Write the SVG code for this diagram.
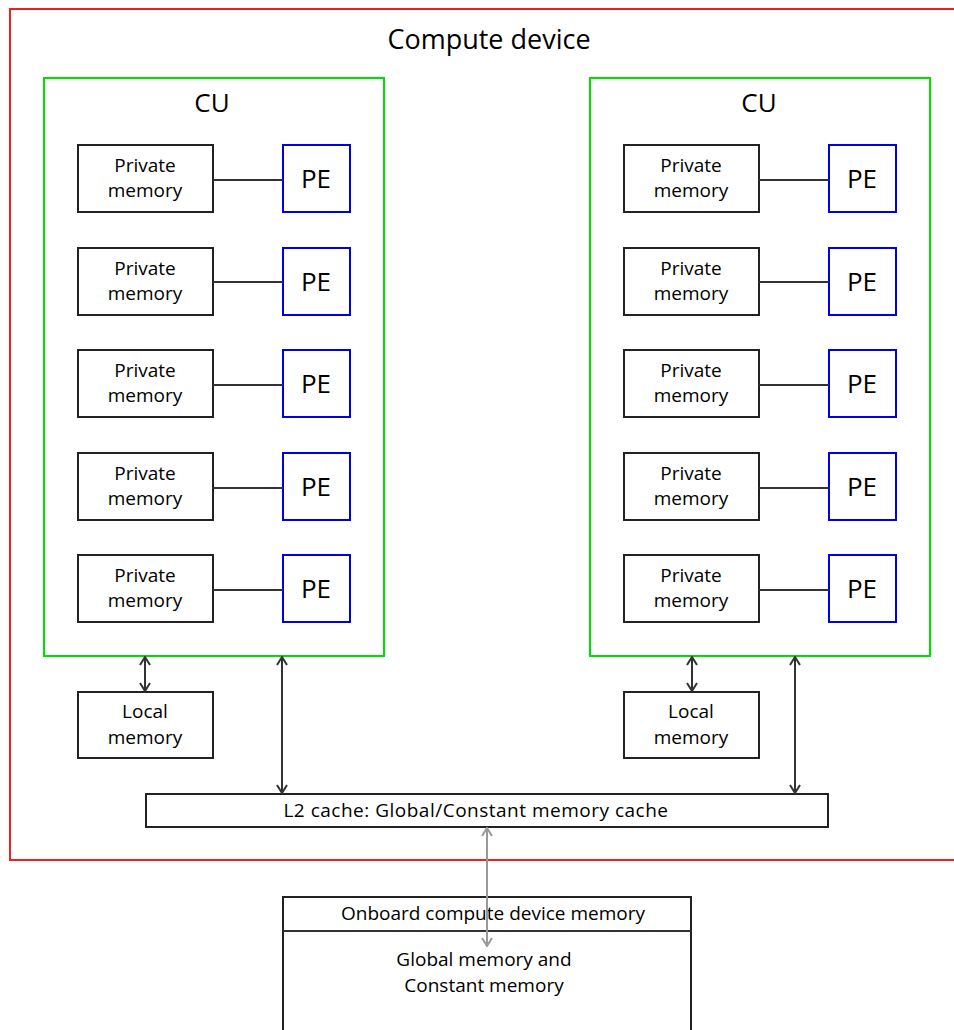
<svg xmlns="http://www.w3.org/2000/svg" width="954" height="1030" viewBox="0 0 954 1030">
  <style>
    text { font-family: "Open Sans", "Noto Sans", sans-serif; fill: #000; text-anchor: middle; }
    .title { font-size: 27px; }
    .big { font-size: 26px; }
    .small { font-size: 19px; }
    .wide { letter-spacing: 0.5px; }
    .box { fill: #fff; stroke: #222; stroke-width: 2; }
    .pe { fill: #fff; stroke: #0000e0; stroke-width: 2; }
    .cu { fill: none; stroke: #00e000; stroke-width: 2; }
    .dev { fill: none; stroke: #f02020; stroke-width: 2; }
    .link { stroke: #333; stroke-width: 2; fill: none; }
    .arrow { stroke: #333; stroke-width: 2; fill: none; marker-start: url(#head); marker-end: url(#head); }
    .arrow-grey { stroke: #999; stroke-width: 2; fill: none; marker-start: url(#headGrey); marker-end: url(#headGrey); }
  </style>
  <defs>
    <marker id="head" viewBox="0 0 12 12" refX="11" refY="6" markerWidth="12" markerHeight="12" markerUnits="userSpaceOnUse" orient="auto-start-reverse">
      <path d="M3,1 L11,6 L3,11" fill="none" stroke="#333" stroke-width="2"/>
    </marker>
    <marker id="headGrey" viewBox="0 0 12 12" refX="11" refY="6" markerWidth="12" markerHeight="12" markerUnits="userSpaceOnUse" orient="auto-start-reverse">
      <path d="M3,1 L11,6 L3,11" fill="none" stroke="#999" stroke-width="2"/>
    </marker>
  </defs>

  <rect width="954" height="1030" fill="#fff"/>

  <!-- compute device boundary -->
  <g id="compute-device">
    <rect class="dev" x="10" y="9" width="960" height="851"/>
    <text class="title" x="489" y="49">Compute device</text>
  </g>

  <!-- left compute unit -->
  <g id="cu-left">
    <rect class="cu" x="44" y="78" width="340" height="578"/>
    <text class="big" x="212" y="112">CU</text>
  </g>
  <!-- right compute unit -->
  <g id="cu-right">
    <rect class="cu" x="590" y="78" width="340" height="578"/>
    <text class="big" x="759" y="112">CU</text>
  </g>

  <!-- left CU: private memories and processing elements -->
  <g id="pm-l1"><rect class="box" x="78" y="145" width="135" height="67"/><text class="small" x="145" y="172">Private</text><text class="small" x="145" y="197">memory</text></g>
  <g id="pe-l1"><rect class="pe" x="283" y="145" width="67" height="67"/><text class="big" x="316" y="188">PE</text></g>
  <g id="pm-l2"><rect class="box" x="78" y="248" width="135" height="67"/><text class="small" x="145" y="275">Private</text><text class="small" x="145" y="300">memory</text></g>
  <g id="pe-l2"><rect class="pe" x="283" y="248" width="67" height="67"/><text class="big" x="316" y="291">PE</text></g>
  <g id="pm-l3"><rect class="box" x="78" y="350" width="135" height="67"/><text class="small" x="145" y="377">Private</text><text class="small" x="145" y="402">memory</text></g>
  <g id="pe-l3"><rect class="pe" x="283" y="350" width="67" height="67"/><text class="big" x="316" y="393">PE</text></g>
  <g id="pm-l4"><rect class="box" x="78" y="453" width="135" height="67"/><text class="small" x="145" y="480">Private</text><text class="small" x="145" y="505">memory</text></g>
  <g id="pe-l4"><rect class="pe" x="283" y="453" width="67" height="67"/><text class="big" x="316" y="496">PE</text></g>
  <g id="pm-l5"><rect class="box" x="78" y="555" width="135" height="67"/><text class="small" x="145" y="582">Private</text><text class="small" x="145" y="607">memory</text></g>
  <g id="pe-l5"><rect class="pe" x="283" y="555" width="67" height="67"/><text class="big" x="316" y="598">PE</text></g>

  <!-- right CU: private memories and processing elements -->
  <g id="pm-r1"><rect class="box" x="624" y="145" width="135" height="67"/><text class="small" x="691" y="172">Private</text><text class="small" x="691" y="197">memory</text></g>
  <g id="pe-r1"><rect class="pe" x="829" y="145" width="67" height="67"/><text class="big" x="862" y="188">PE</text></g>
  <g id="pm-r2"><rect class="box" x="624" y="248" width="135" height="67"/><text class="small" x="691" y="275">Private</text><text class="small" x="691" y="300">memory</text></g>
  <g id="pe-r2"><rect class="pe" x="829" y="248" width="67" height="67"/><text class="big" x="862" y="291">PE</text></g>
  <g id="pm-r3"><rect class="box" x="624" y="350" width="135" height="67"/><text class="small" x="691" y="377">Private</text><text class="small" x="691" y="402">memory</text></g>
  <g id="pe-r3"><rect class="pe" x="829" y="350" width="67" height="67"/><text class="big" x="862" y="393">PE</text></g>
  <g id="pm-r4"><rect class="box" x="624" y="453" width="135" height="67"/><text class="small" x="691" y="480">Private</text><text class="small" x="691" y="505">memory</text></g>
  <g id="pe-r4"><rect class="pe" x="829" y="453" width="67" height="67"/><text class="big" x="862" y="496">PE</text></g>
  <g id="pm-r5"><rect class="box" x="624" y="555" width="135" height="67"/><text class="small" x="691" y="582">Private</text><text class="small" x="691" y="607">memory</text></g>
  <g id="pe-r5"><rect class="pe" x="829" y="555" width="67" height="67"/><text class="big" x="862" y="598">PE</text></g>

  <!-- local memories -->
  <g id="local-left"><rect class="box" x="78" y="692" width="135" height="66"/><text class="small" x="145" y="718">Local</text><text class="small" x="145" y="744">memory</text></g>
  <g id="local-right"><rect class="box" x="624" y="692" width="135" height="66"/><text class="small" x="691" y="718">Local</text><text class="small" x="691" y="744">memory</text></g>

  <!-- L2 cache -->
  <g id="l2-cache"><rect class="box" x="146" y="794" width="682" height="33"/><text class="small wide" x="476" y="817">L2 cache: Global/Constant memory cache</text></g>

  <!-- onboard memory -->
  <g id="onboard-memory">
    <rect class="box" x="283" y="897" width="408" height="150"/>
    <line class="link" x1="283" y1="931" x2="691" y2="931"/>
    <text class="small" x="493" y="920">Onboard compute device memory</text>
    <text class="small" x="484" y="966">Global memory and</text>
    <text class="small" x="484" y="992">Constant memory</text>
  </g>

  <!-- connectors, drawn last so the bus arrow passes over the onboard box -->
  <g id="connectors">
    <line class="link" x1="213" y1="180" x2="283" y2="180"/>
    <line class="link" x1="213" y1="282" x2="283" y2="282"/>
    <line class="link" x1="213" y1="385" x2="283" y2="385"/>
    <line class="link" x1="213" y1="488" x2="283" y2="488"/>
    <line class="link" x1="213" y1="590" x2="283" y2="590"/>
    <line class="link" x1="759" y1="180" x2="829" y2="180"/>
    <line class="link" x1="759" y1="282" x2="829" y2="282"/>
    <line class="link" x1="759" y1="385" x2="829" y2="385"/>
    <line class="link" x1="759" y1="488" x2="829" y2="488"/>
    <line class="link" x1="759" y1="590" x2="829" y2="590"/>
    <line class="arrow" x1="145" y1="657" x2="145" y2="691"/>
    <line class="arrow" x1="282" y1="657" x2="282" y2="793"/>
    <line class="arrow" x1="692" y1="657" x2="692" y2="691"/>
    <line class="arrow" x1="795" y1="657" x2="795" y2="793"/>
    <line class="arrow-grey" x1="487" y1="828" x2="487" y2="946"/>
  </g>
</svg>
